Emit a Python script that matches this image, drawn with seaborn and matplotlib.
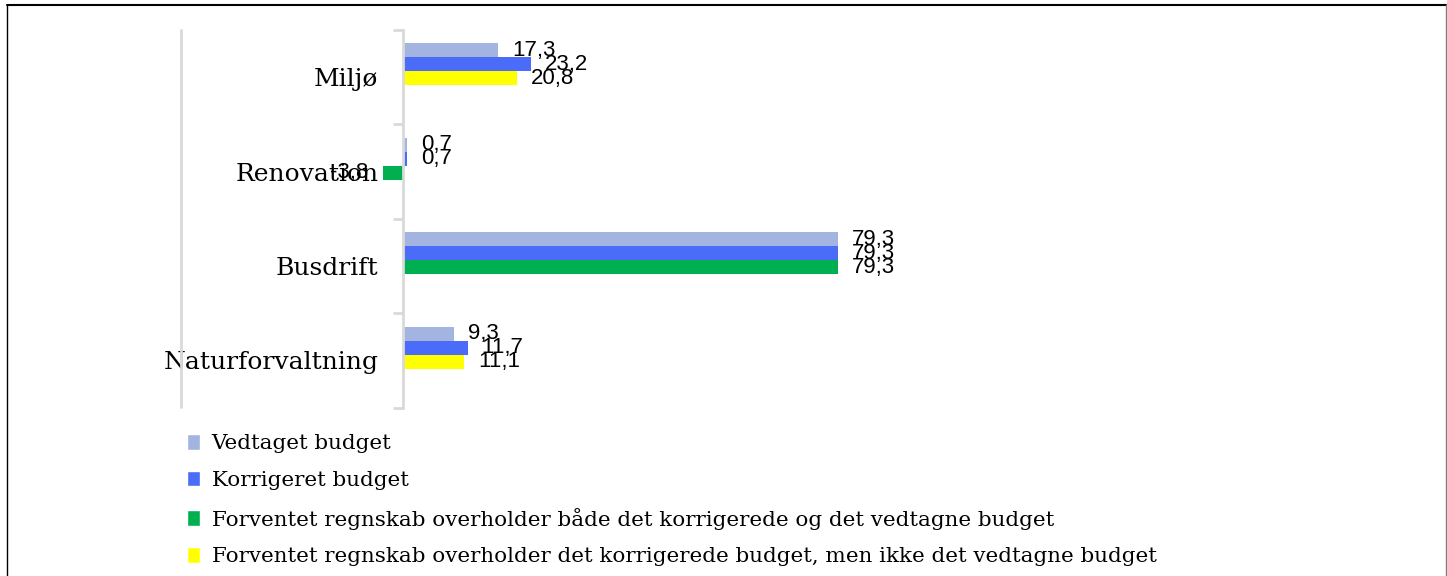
import matplotlib
matplotlib.use('Agg')
import matplotlib.pyplot as plt
import seaborn as sns
import pandas as pd
from matplotlib.patches import Patch
from matplotlib.lines import Line2D

# data
categories = ['Miljø', 'Renovation', 'Busdrift', 'Naturforvaltning']
vedtaget = [17.3, 0.7, 79.3, 9.3]
korrigeret = [23.2, 0.7, 79.3, 11.7]
forventet = [20.8, -3.8, 79.3, 11.1]
# which colour the "forventet regnskab" bar gets
forventet_status = ['ikke_vedtaget', 'begge', 'begge', 'ikke_vedtaget']

series_names = ['Vedtaget budget', 'Korrigeret budget', 'Forventet regnskab']
legend_labels = [
    'Vedtaget budget',
    'Korrigeret budget',
    'Forventet regnskab overholder både det korrigerede og det vedtagne budget',
    'Forventet regnskab overholder det korrigerede budget, men ikke det vedtagne budget',
]
colors = {
    'Vedtaget budget': '#a3b4e0',
    'Korrigeret budget': '#4a6cf8',
    'begge': '#00b050',
    'ikke_vedtaget': '#ffff00',
}

df = pd.DataFrame({
    'kategori': categories * 3,
    'serie': [s for s in series_names for _ in categories],
    'vaerdi': vedtaget + korrigeret + forventet,
})

sns.set_style('white')
plt.rcParams['font.family'] = ['DejaVu Serif']
plt.rcParams['text.color'] = 'black'
plt.rcParams['ytick.labelcolor'] = 'black'

W, H = 1447, 576
fig = plt.figure(figsize=(W / 100, H / 100), dpi=100)
ax = fig.add_axes([376 / W, 1 - 407.7 / H, 548.3 / W, (407.7 - 30) / H])

sns.barplot(data=df, y='kategori', x='vaerdi', hue='serie', order=categories,
            hue_order=series_names,
            palette=[colors['Vedtaget budget'], colors['Korrigeret budget'], colors['begge']],
            width=0.445, orient='h', saturation=1, errorbar=None, linewidth=0,
            legend=False, ax=ax)

# third series gets a colour per category
for patch, status in zip(ax.containers[2], forventet_status):
    patch.set_facecolor(colors[status])

# Excel puts the group a bit above the category centre
for p in ax.patches:
    p.set_y(p.get_y() - 0.137)

for cont in ax.containers:
    vals = [p.get_width() for p in cont]
    ax.bar_label(cont, labels=[f'{v:.1f}'.replace('.', ',') for v in vals],
                 padding=10, fontsize=16, family='Liberation Sans', color='black')

ax.set_xlim(-5, 95)
ax.set_ylim(3.5, -0.5)
ax.set_xlabel('')
ax.set_ylabel('')
ax.set_xticks([])
for s in ['top', 'right', 'bottom']:
    ax.spines[s].set_visible(False)
ax.spines['left'].set_position(('data', 0))
ax.spines['left'].set_color('#d9d9d9')
ax.spines['left'].set_linewidth(2)
ax.set_yticks(range(len(categories)))
ax.set_yticklabels(categories, fontsize=18, color='black')
ax.tick_params(axis='y', which='major', length=0, pad=18)
ax.set_yticks([i - 0.5 for i in range(len(categories) + 1)], minor=True)
ax.tick_params(axis='y', which='minor', left=True, length=7, width=2,
               color='#d9d9d9', direction='out')

# legend
handles = [Patch(facecolor=colors['Vedtaget budget']),
           Patch(facecolor=colors['Korrigeret budget']),
           Patch(facecolor=colors['begge']),
           Patch(facecolor=colors['ikke_vedtaget'])]
leg = fig.legend(handles, legend_labels, loc='upper left', bbox_to_anchor=(187 / W, 1 - 434 / H),
                 frameon=False, fontsize=15.4, handlelength=0.6, handleheight=0.75,
                 handletextpad=0.55, labelspacing=0.82, borderpad=0, borderaxespad=0)
for t in leg.get_texts():
    t.set_color('black')

# frame lines
fig.add_artist(Line2D([181 / W, 181 / W], [1 - 30 / H, 1 - 407 / H], color='#d9d9d9', lw=2))
fig.add_artist(Line2D([7 / W, 1446 / W], [1 - 5 / H, 1 - 5 / H], color='black', lw=1.5))
fig.add_artist(Line2D([7 / W, 7 / W], [1 - 5 / H, 0], color='black', lw=1))
fig.add_artist(Line2D([1446 / W, 1446 / W], [1 - 5 / H, 0], color='#808080', lw=1))

fig.savefig('out.png', dpi=100)
